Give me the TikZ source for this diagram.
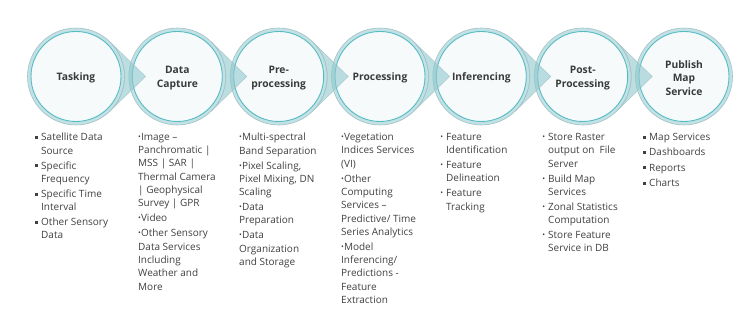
\documentclass[tikz,border=0pt]{standalone}
\usepackage{fontspec}
\setmainfont{Open Sans}
\usetikzlibrary{calc}
\definecolor{ringfill}{HTML}{C2E1E4}
\definecolor{ringedge}{HTML}{A3C3C7}
\definecolor{innerfill}{HTML}{F6FAFB}
\definecolor{inneredge}{HTML}{55BCC4}
\definecolor{arrowfill}{HTML}{8FC8CD}
\definecolor{titlecol}{HTML}{3A3A3A}
\definecolor{bodycol}{HTML}{404040}
\newcommand\sqb{\rule[0.17em]{0.3em}{0.3em}}
\newcommand\ib{\raisebox{0.1em}{\fontsize{7.5}{7.5}\selectfont •}}
\newcommand\hsq{\llap{\sqb\hspace{3.2pt}}}
\newcommand\hib{\llap{\ib\hspace{3pt}}}
\begin{document}
\begin{tikzpicture}[x=1pt,y=1pt,
  outerc/.style={circle, minimum size=97pt, inner sep=0pt, fill=ringfill, draw=ringedge, line width=0.6pt},
  innerc/.style={circle, minimum size=90pt, inner sep=0pt, fill=innerfill, draw=inneredge, line width=0.9pt},
  titletext/.style={align=center, text=titlecol, yshift=-1.5pt, font=\bfseries\fontsize{10.3}{13.3}\selectfont},
  pointer/.style={fill=arrowfill, fill opacity=0.6, draw=ringedge, draw opacity=0.8, line width=0.5pt},
  list/.style={anchor=north west, inner sep=0pt, align=left, text=bodycol, font=\fontsize{10}{13.3}\selectfont}
]
\useasboundingbox (0,0) rectangle (750,312);
\foreach \i/\x in {1/76,2/177.3,3/278.7,4/380,5/481.3,6/582.7,7/684}{
  \node[outerc] (o\i) at (\x,235.5) {};
  \node[innerc] (c\i) at (\x,235.5) {};
}
\foreach \i in {1,...,6}{
  \draw[pointer] ($(o\i.center)+(45.8:48.5)$) arc[start angle=45.8, end angle=-45.8, radius=48.5] -- ($(o\i.center)+(69.5,0)$) -- cycle;
}
\node[titletext] (t1) at (c1) {Tasking};
\node[titletext] (t2) at (c2) {Data\\Capture};
\node[titletext] (t3) at (c3) {Pre-\\processing};
\node[titletext] (t4) at (c4) {Processing};
\node[titletext] (t5) at (c5) {Inferencing};
\node[titletext] (t6) at (c6) {Post-\\Processing};
\node[titletext] (t7) at (c7) {Publish\\Map\\Service};

\node[list] (l1) at (41,179) {\hsq Satellite Data\\Source\\[1.7pt]\hsq Specific\\Frequency\\[1.7pt]\hsq Specific Time\\Interval\\[1.7pt]\hsq Other Sensory\\Data};
\node[list] (l2) at (138,179) {\ib Image –\\Panchromatic |\\MSS | SAR |\\Thermal Camera\\| Geophysical\\Survey | GPR\\[1.7pt]\ib Video\\[1.7pt]\ib Other Sensory\\Data Services\\Including\\Weather and\\More};
\node[list] (l3) at (239,179) {\ib Multi-spectral\\Band Separation\\[1.7pt]\ib Pixel Scaling,\\Pixel Mixing, DN\\Scaling\\[1.7pt]\ib Data\\Preparation\\[1.7pt]\ib Data\\Organization\\and Storage};
\node[list] (l4) at (341,179) {\ib Vegetation\\Indices Services\\(VI)\\[1.7pt]\ib Other\\Computing\\Services –\\Predictive/ Time\\Series Analytics\\[1.7pt]\ib Model\\Inferencing/\\Predictions -\\Feature\\Extraction};
\node[list] (l5) at (446,179) {\hib Feature\\Identification\\[1.7pt]\hib Feature\\Delineation\\[1.7pt]\hib Feature\\Tracking};
\node[list] (l6) at (548,179) {\hib Store Raster\\output on\ \ File\\Server\\[1.7pt]\hib Build Map\\Services\\[1.7pt]\hib Zonal Statistics\\Computation\\[1.7pt]\hib Store Feature\\Service in DB};
\node[list] (l7) at (649,179) {\hsq Map Services\\[2pt]\hsq Dashboards\\[2pt]\hsq Reports\\[2pt]\hsq Charts};
\end{tikzpicture}
\end{document}
